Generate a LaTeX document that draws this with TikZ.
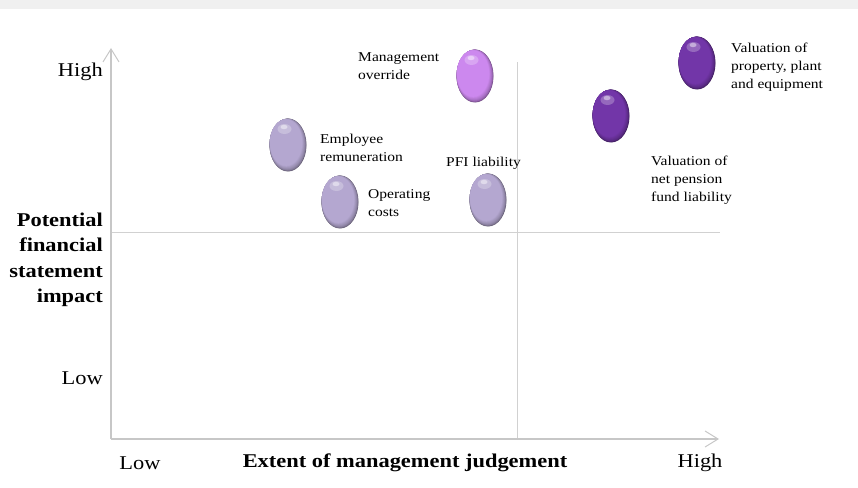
\documentclass[tikz,border=0pt]{standalone}
\usepackage{fontspec}
\setmainfont[FakeStretch=1.15]{Liberation Serif}
\usetikzlibrary{arrows.meta}

\definecolor{lowegg}{HTML}{B4A7D0}
\definecolor{midegg}{HTML}{CC88EE}
\definecolor{highegg}{HTML}{7236A8}

\tikzset{
  axisline/.style={draw=black!22, line width=1.1pt},
  quadline/.style={draw=black!18, line width=0.9pt},
  risklabel/.style={font=\fontsize{13.5}{18}\selectfont, align=left, anchor=west, inner sep=0pt},
  scalelabel/.style={font=\fontsize{19.5}{25}\selectfont, inner sep=0pt},
}
% egg: dark rim towards the lower right, gloss at the top
\newcommand{\riskegg}[3]{%
  \coordinate (#1) at #2;
  \foreach \k in {0,...,12}{
    \pgfmathtruncatemacro{\mix}{55+45*sqrt(\k/12)}
    \fill[#3!\mix!black] ([shift={(-0.16*\k,-0.2*\k)}]#1) ellipse [x radius=18.5-0.2*\k, y radius=26.5-0.27*\k];
  }
  \fill[white, opacity=0.25] ([shift={(-3.5,-16)}]#1) ellipse [x radius=7, y radius=5];
  \fill[white, opacity=0.45] ([shift={(-4,-18)}]#1) ellipse [x radius=3.5, y radius=2.2];}

\begin{document}
\begin{tikzpicture}[x=1pt,y=-1pt]
  \useasboundingbox (0,0) rectangle (858,487);
  \fill[black!6] (0,0) rectangle (858,9);

  % axes and quadrants
  \coordinate (origin) at (111,439);
  \coordinate (ytip) at (111,48);
  \coordinate (xtip) at (719,439);
  \draw[quadline] (517,62) -- (517,439);
  \draw[quadline] (111,232) -- (720,232);
  \draw[axisline, -{Straight Barb[length=13pt,width=16pt,line width=1pt]}] (origin) -- (ytip);
  \draw[axisline, -{Straight Barb[length=13pt,width=16pt,line width=1pt]}] (origin) -- (xtip);

  % scale labels
  \node[scalelabel, anchor=east] (yhigh) at (103,72) {High};
  \node[scalelabel, anchor=east] (ylow) at (103,378) {Low};
  \node[scalelabel, anchor=east, align=right, font=\fontsize{19.5}{25.5}\selectfont\bfseries] (ytitle) at (103,260)
    {Potential\\financial\\statement\\impact};
  \node[scalelabel] (xlow) at (140,463) {Low};
  \node[scalelabel, font=\fontsize{19.5}{25}\selectfont\bfseries] (xtitle) at (405,463) {Extent of management judgement};
  \node[scalelabel] (xhigh) at (700,463) {High};

  % risks
  \riskegg{staff}{(288,145)}{lowegg}
  \riskegg{opcost}{(340,202)}{lowegg}
  \riskegg{override}{(475,76)}{midegg}
  \riskegg{pfi}{(488,200)}{lowegg}
  \riskegg{pension}{(611,116)}{highegg}
  \riskegg{ppe}{(697,63)}{highegg}

  \node[risklabel] (overridetxt) at (358,66) {Management\\override};
  \node[risklabel] (stafftxt) at (320,148) {Employee\\remuneration};
  \node[risklabel] (opcosttxt) at (368,203.5) {Operating\\costs};
  \node[risklabel] (pfitxt) at (446,163) {PFI liability};
  \node[risklabel] (pensiontxt) at (651,180) {Valuation of\\net pension\\fund liability};
  \node[risklabel] (ppetxt) at (731,67.5) {Valuation of\\property, plant\\and equipment};
\end{tikzpicture}
\end{document}
